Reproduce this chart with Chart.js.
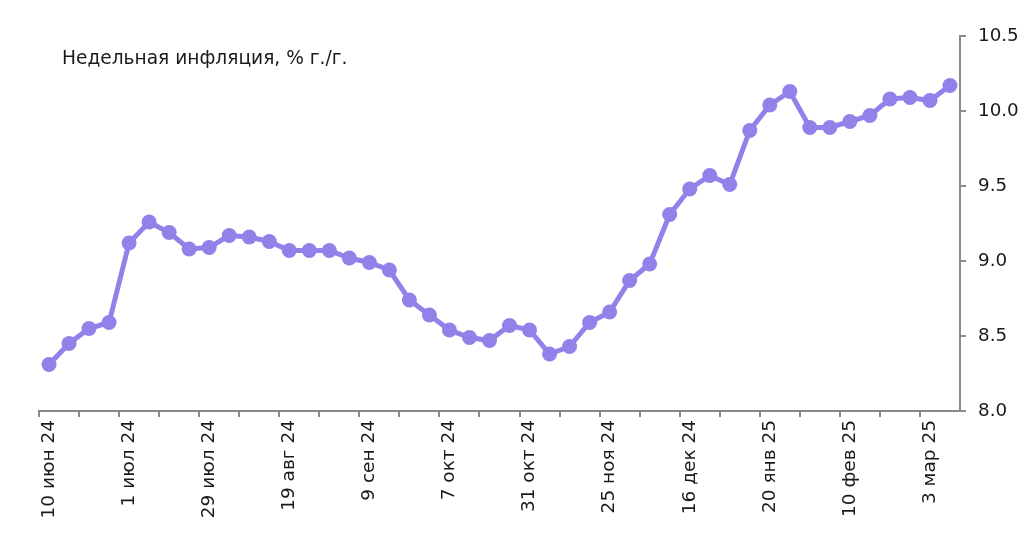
<!DOCTYPE html>
<html>
<head>
<meta charset="utf-8">
<script src="https://cdn.jsdelivr.net/npm/chart.js@4/dist/chart.umd.min.js"></script>
<style>
  html, body { margin: 0; padding: 0; background: #ffffff; }
  #wrap { width: 1034px; height: 541px; position: relative; }
</style>
</head>
<body>
<div id="wrap"><canvas id="c" width="1034" height="541"></canvas></div>
<script>
// Tick labels shown every 4th category
const tickLabels = ['10 июн 24', '1 июл 24', '29 июл 24', '19 авг 24', '9 сен 24', '7 окт 24',
  '31 окт 24', '25 ноя 24', '16 дек 24', '20 янв 25', '10 фев 25', '3 мар 25'];
const labelEvery = 4;
// Weekly inflation, % y/y (46 weekly observations)
const inflation = [8.31, 8.45, 8.55, 8.59, 9.12, 9.26, 9.19, 9.08, 9.09, 9.17,
  9.16, 9.13, 9.07, 9.07, 9.07, 9.02, 8.99, 8.94, 8.74, 8.64,
  8.54, 8.49, 8.47, 8.57, 8.54, 8.38, 8.43, 8.59, 8.66, 8.87,
  8.98, 9.31, 9.48, 9.57, 9.51, 9.87, 10.04, 10.13, 9.89, 9.89,
  9.93, 9.97, 10.08, 10.09, 10.07, 10.17];
const titleText = 'Недельная инфляция, % г./г.';
const yMin = 8.0, yMax = 10.5, yStep = 0.5;

const categories = inflation.map((v, i) => (i % labelEvery === 0 ? tickLabels[i / labelEvery] : ''));

const FONT = "'DejaVu Sans', sans-serif";
const TEXT = '#1a1a1a';
const AXIS = '#8a8a8a';
const LINE = 'rgb(147,129,234)';

const titlePlugin = {
  id: 'innerTitle',
  afterDraw(chart) {
    const ctx = chart.ctx;
    ctx.save();
    ctx.font = "18.6px " + FONT;
    ctx.fillStyle = TEXT;
    ctx.textBaseline = 'alphabetic';
    ctx.textAlign = 'left';
    ctx.fillText(titleText, 62, 64);
    ctx.restore();
  }
};

new Chart(document.getElementById('c'), {
  type: 'line',
  data: {
    labels: categories,
    datasets: [{
      data: inflation,
      borderColor: LINE,
      backgroundColor: LINE,
      borderWidth: 5,
      pointRadius: 7.5,
      pointHoverRadius: 7.5,
      pointBackgroundColor: LINE,
      pointBorderWidth: 0,
      tension: 0,
      fill: false
    }]
  },
  options: {
    responsive: false,
    animation: false,
    devicePixelRatio: 1,
    layout: { padding: { left: 39, top: 36, right: 0, bottom: 0 } },
    plugins: { legend: { display: false }, tooltip: { enabled: false }, title: { display: false } },
    scales: {
      x: {
        type: 'category',
        offset: true,
        afterFit(s) { s.height = 130; },
        grid: {
          offset: true,
          drawOnChartArea: false,
          drawTicks: true,
          tickLength: 6,
          lineWidth: 2,
          color: (ctx) => (ctx.index % 2 === 0 ? AXIS : 'rgba(0,0,0,0)')
        },
        border: { display: true, color: AXIS, width: 2 },
        ticks: {
          autoSkip: false,
          minRotation: 90,
          maxRotation: 90,
          padding: 3,
          color: TEXT,
          font: { family: FONT, size: 18.5 }
        }
      },
      y: {
        position: 'right',
        min: yMin,
        max: yMax,
        afterFit(s) { s.width = 74; },
        grid: {
          drawOnChartArea: false,
          drawTicks: true,
          tickLength: 6,
          lineWidth: 2,
          color: AXIS
        },
        border: { display: true, color: AXIS, width: 2 },
        ticks: {
          stepSize: yStep,
          padding: 12,
          color: TEXT,
          font: { family: FONT, size: 18.3 },
          callback: (v) => Number(v).toFixed(1)
        }
      }
    }
  },
  plugins: [titlePlugin]
});
</script>
</body>
</html>
